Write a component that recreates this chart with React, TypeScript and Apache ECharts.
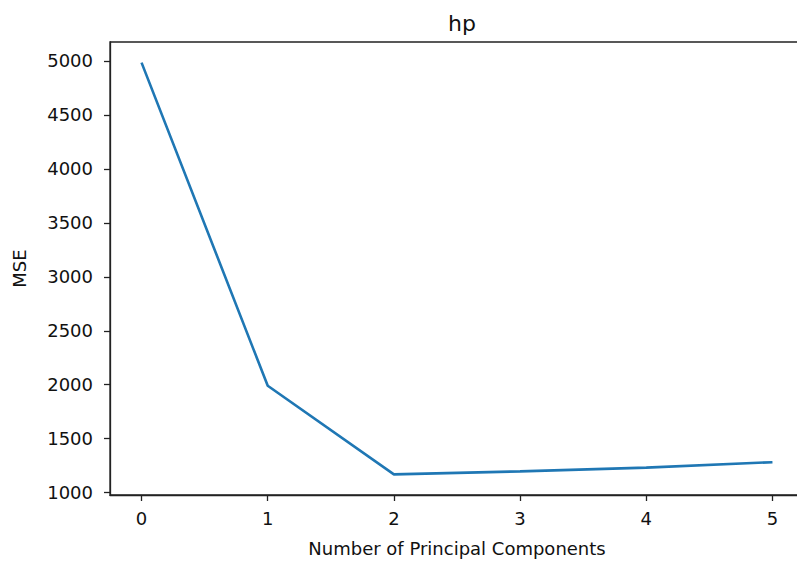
import React, { useEffect, useRef } from "react";
import * as echarts from "echarts";

const components = [0, 1, 2, 3, 4, 5];
const mseValues = [4985, 1990, 1169, 1197, 1232, 1282];
const xTicks = [0, 1, 2, 3, 4, 5];
const yTicks = [1000, 1500, 2000, 2500, 3000, 3500, 4000, 4500, 5000];

export default function App() {
  const ref = useRef<HTMLDivElement>(null);
  useEffect(() => {
    if (!ref.current) return;
    const chart = echarts.init(ref.current, null, { renderer: "svg" });
    const font = "DejaVu Sans";
    chart.setOption({
      animation: false,
      backgroundColor: "#ffffff",
      title: {
        text: "hp",
        left: 457,
        top: 7,
        textAlign: "center",
        textStyle: { fontFamily: font, fontSize: 22, fontWeight: "normal", color: "#111" },
      },
      grid: {
        left: 110,
        top: 42,
        width: 694,
        height: 453,
        outerBoundsMode: "none",
        containLabel: false,
        show: true,
        borderColor: "#222",
        borderWidth: 1.3,
        backgroundColor: "transparent",
      },
      xAxis: {
        type: "value",
        min: -0.25,
        max: 5.25,
        name: "Number of Principal Components",
        nameLocation: "middle",
        nameGap: 44,
        nameTextStyle: { fontFamily: font, fontSize: 18, color: "#111" },
        splitLine: { show: false },
        axisLine: { onZero: false, lineStyle: { color: "#222", width: 1.3 } },
        axisTick: { length: 6, lineStyle: { color: "#222", width: 1.3 }, customValues: xTicks },
        axisLabel: { fontFamily: font, fontSize: 18, color: "#111", margin: 14, customValues: xTicks, formatter: (v: number) => String(v) },
      },
      yAxis: {
        type: "value",
        min: 978,
        max: 5176,
        name: "MSE",
        nameLocation: "middle",
        nameGap: 82,
        nameTextStyle: { fontFamily: font, fontSize: 18, color: "#111" },
        splitLine: { show: false },
        axisLine: { show: true, onZero: false, lineStyle: { color: "#222", width: 1.3 } },
        axisTick: { show: true, length: 6, lineStyle: { color: "#222", width: 1.3 }, customValues: yTicks },
        axisLabel: { fontFamily: font, fontSize: 18, color: "#111", margin: 17, customValues: yTicks, formatter: (v: number) => String(v) },
      },
      series: [
        {
          type: "line",
          data: components.map((c, i) => [c, mseValues[i]]),
          showSymbol: false,
          symbol: "none",
          lineStyle: { color: "#1f77b4", width: 2.6 },
          clip: true,
        },
      ],
    });
    return () => chart.dispose();
  }, []);
  return (
    <div
      ref={ref}
      style={{ position: "fixed", left: 0, top: 0, width: 797, height: 563, background: "#fff" }}
    />
  );
}
